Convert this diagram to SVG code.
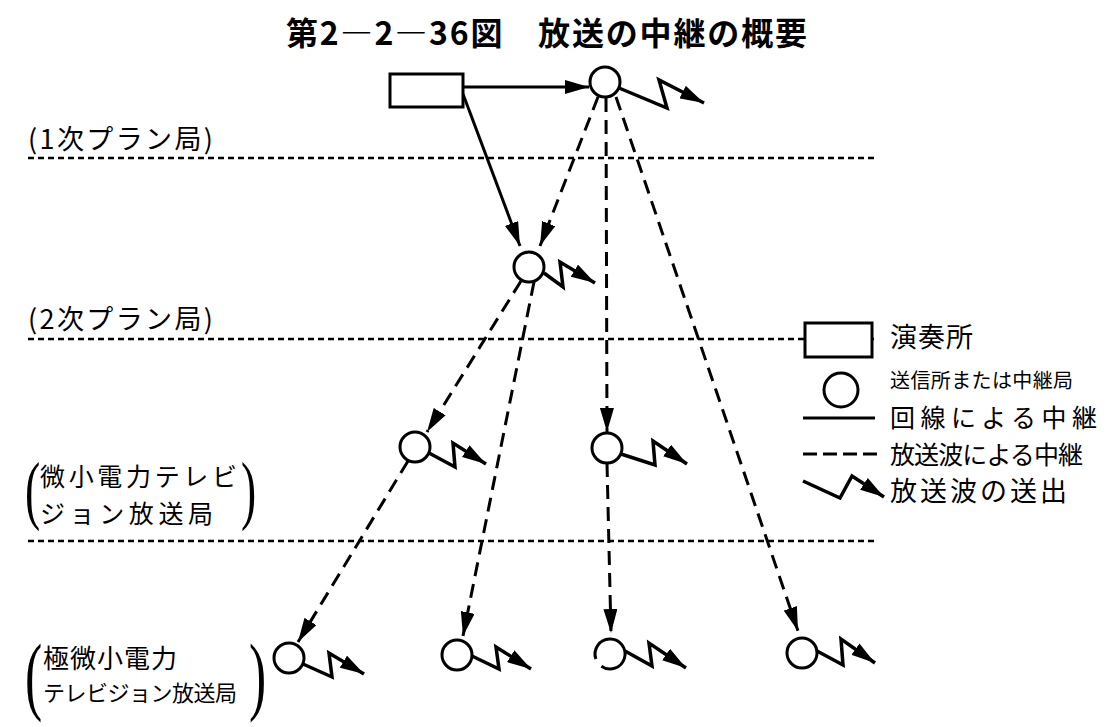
<svg xmlns="http://www.w3.org/2000/svg" width="1117" height="727" viewBox="0 0 1117 727">
<style>
.bg{fill:#fff}
.st{fill:#fff;stroke:#000;stroke-width:3}
.ln{fill:none;stroke:#000;stroke-width:3}
.ds{fill:none;stroke:#000;stroke-width:3;stroke-dasharray:14 8}
.sep{fill:none;stroke:#000;stroke-width:2.5;stroke-dasharray:6 4}
.zz{fill:none;stroke:#000;stroke-width:3.5;stroke-linejoin:miter;marker-end:url(#ah)}
.t{font-family:"Noto Sans CJK JP","Noto Sans CJK SC",sans-serif;fill:#000}
.p{font-family:"Liberation Serif",serif;fill:#000}
</style>
<defs>
<marker id="ah" viewBox="0 0 24 14" refX="24" refY="7" markerUnits="userSpaceOnUse" markerWidth="24" markerHeight="14" orient="auto">
<path d="M0,0 L24,7 L0,14 z" fill="#000"/>
</marker>
</defs>
<rect class="bg" x="0" y="0" width="1117" height="727"/>

<text class="t" x="286" y="45" font-size="32" font-weight="bold" textLength="521">第2―2―36図　放送の中継の概要</text>

<g id="separators">
<line class="sep" x1="28" y1="158" x2="875" y2="158"/>
<line class="sep" x1="28" y1="339" x2="875" y2="339"/>
<line class="sep" x1="28" y1="541" x2="878" y2="541"/>
</g>

<g id="level-labels">
<text class="t" x="28" y="149" font-size="27" textLength="185">(1次プラン局)</text>
<text class="t" x="28" y="329" font-size="27" textLength="185">(2次プラン局)</text>
<text class="p" transform="translate(25,515) scale(0.6,1)" font-size="76">(</text>
<text class="t" x="40" y="486" font-size="25" textLength="197">微小電力テレビ</text>
<text class="t" x="40" y="523" font-size="25" textLength="173">ジョン放送局</text>
<text class="p" transform="translate(241,515) scale(0.6,1)" font-size="76">)</text>
<text class="p" transform="translate(25,704) scale(0.6,1)" font-size="86">(</text>
<text class="t" x="43" y="668" font-size="26" textLength="134">極微小電力</text>
<text class="t" x="43" y="701" font-size="22" textLength="194">テレビジョン放送局</text>
<text class="p" transform="translate(249,704) scale(0.6,1)" font-size="86">)</text>
</g>

<g id="connectors">
<line class="ln" x1="463" y1="87" x2="589" y2="87" marker-end="url(#ah)"/>
<line class="ln" x1="463" y1="94" x2="520" y2="246" marker-end="url(#ah)"/>
<line class="ds" x1="598" y1="97" x2="540" y2="246" marker-end="url(#ah)"/>
<line class="ds" x1="606" y1="98" x2="607" y2="432" marker-end="url(#ah)"/>
<line class="ds" x1="616" y1="97" x2="798" y2="631" marker-end="url(#ah)"/>
<line class="ds" x1="521" y1="281" x2="427" y2="432" marker-end="url(#ah)"/>
<line class="ds" x1="534" y1="282" x2="463" y2="636" marker-end="url(#ah)"/>
<line class="ds" x1="408" y1="461" x2="298" y2="642" marker-end="url(#ah)"/>
<line class="ds" x1="607" y1="463" x2="611" y2="633" marker-end="url(#ah)"/>
</g>

<g id="studio">
<rect class="st" x="390" y="74" width="73" height="33"/>
</g>

<g id="station-top">
<circle class="st" cx="605" cy="82" r="15"/>
<path class="zz" d="M619,88 L667,108 L659,80 L704,103"/>
</g>

<g id="station-2nd">
<circle class="st" cx="529" cy="267" r="15"/>
<path class="zz" d="M544,273 L563,287 L560,262 L595,283"/>
</g>

<g id="station-micro-1">
<circle class="st" cx="415" cy="447" r="15"/>
<path class="zz" d="M429,453 L455,467 L453,443 L486,464"/>
</g>

<g id="station-micro-2">
<circle class="st" cx="607" cy="448" r="15"/>
<path class="zz" d="M621,454 L655,465 L653,441 L687,464"/>
</g>

<g id="station-tiny-1">
<circle class="st" cx="289" cy="658" r="15"/>
<path class="zz" d="M303,664 L332,677 L329,653 L364,674"/>
</g>

<g id="station-tiny-2">
<circle class="st" cx="457" cy="655" r="15"/>
<path class="zz" d="M472,656 L499,669 L496,647 L531,669"/>
</g>

<g id="station-tiny-3">
<path class="ln" d="M595.9,659.1 A15,15 0 1 1 601.4,666.3"/>
<path class="zz" d="M625,651 L652,666 L649,643 L686,668"/>
</g>

<g id="station-tiny-4">
<circle class="st" cx="802" cy="653" r="15"/>
<path class="zz" d="M817,651 L843,665 L841,639 L875,663"/>
</g>

<g id="legend">
<rect class="st" x="805" y="323" width="67" height="34"/>
<text class="t" x="890" y="347" font-size="27" textLength="83">演奏所</text>
<circle class="st" cx="841" cy="390" r="17"/>
<text class="t" x="890" y="388" font-size="20" textLength="183">送信所または中継局</text>
<line class="ln" x1="803" y1="418" x2="875" y2="418"/>
<text class="t" x="890" y="427" font-size="25" textLength="207">回線による中継</text>
<line class="ds" x1="803" y1="454" x2="878" y2="454" style="stroke-dasharray:14 6"/>
<text class="t" x="890" y="464" font-size="25" textLength="193">放送波による中継</text>
<path class="zz" d="M803,481 L840,498 L852,476 L884,497"/>
<text class="t" x="890" y="501" font-size="27" textLength="177">放送波の送出</text>
</g>
</svg>
